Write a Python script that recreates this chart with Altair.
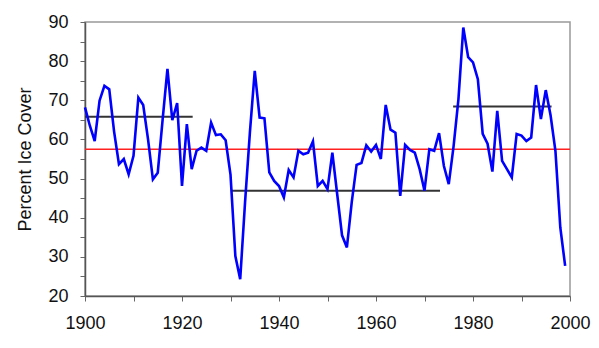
import altair as alt
import pandas as pd

years = list(range(1900, 2000))
ice_cover = [
    68.2, 63.5, 59.6, 69.9, 73.7, 72.8, 62.0, 53.7, 55.0, 51.1,
    55.8, 70.7, 68.8, 60.0, 49.8, 51.5, 65.0, 78.0, 64.9, 69.3,
    48.1, 63.9, 52.4, 57.1, 57.9, 57.1, 64.3, 61.1, 61.3, 59.8,
    51.0, 30.2, 24.3, 43.9, 61.8, 77.5, 65.6, 65.4, 51.6, 49.4,
    48.1, 45.2, 52.2, 50.3, 57.1, 56.2, 56.6, 59.5, 48.1, 49.4,
    47.3, 56.6, 46.0, 35.5, 32.4, 44.0, 53.5, 54.0, 58.5, 56.9,
    58.6, 55.0, 68.8, 62.5, 61.7, 45.6, 58.6, 57.3, 56.6, 52.4,
    46.9, 57.5, 57.1, 61.6, 53.2, 48.6, 58.3, 70.3, 88.6, 81.0,
    79.7, 75.4, 61.4, 58.9, 51.8, 67.3, 54.5, 52.4, 50.3, 61.4,
    61.0, 59.6, 60.5, 73.9, 65.2, 72.6, 66.1, 57.0, 37.5, 27.7,
]

mean_value = [57.5]
seg_start = [1900, 1930.2, 1975.9]
seg_end = [1922.2, 1973.2, 1996.2]
seg_value = [65.8, 46.9, 68.4]

x_ticks = list(range(1900, 2001, 10))
y_ticks = list(range(20, 91, 5))

df = pd.DataFrame({"year": years, "ice": ice_cover})
seg_df = pd.DataFrame({"start": seg_start, "end": seg_end, "v": seg_value})
mean_df = pd.DataFrame({"start": [1900], "end": [2000], "v": mean_value})

font = "Liberation Sans"

xscale = alt.Scale(domain=[1900, 2000], nice=False, zero=False)
yscale = alt.Scale(domain=[20, 90], nice=False, zero=False)

xaxis = alt.Axis(
    values=x_ticks,
    labelExpr="datum.value % 20 == 0 ? datum.label : ''",
    format="d",
    grid=False,
    tickSize=5,
    tickColor="#666",
    domainColor="#555",
    domainWidth=1.5,
    labelFont=font,
    labelFontSize=18,
    labelColor="#111",
    labelPadding=13,
    labelFlush=False,
    labelOverlap=False,
    title=None,
)
yaxis = alt.Axis(
    values=y_ticks,
    labelExpr="datum.value % 10 == 0 ? datum.label : ''",
    grid=False,
    tickSize=5,
    tickColor="#666",
    domainColor="#555",
    domainWidth=1.5,
    labelFont=font,
    labelFontSize=18,
    labelColor="#111",
    labelPadding=12,
    labelFlush=False,
    labelOverlap=False,
    title="Percent Ice Cover",
    titleFont=font,
    titleFontSize=18,
    titleFontWeight="normal",
    titleColor="#111",
    titleAngle=-90,
    titleX=-55,
    titleY=137,
    titleAlign="center",
    titleBaseline="alphabetic",
)

line = alt.Chart(df).mark_line(color="#0000FF", strokeWidth=2.6).encode(
    x=alt.X("year:Q", scale=xscale, axis=xaxis),
    y=alt.Y("ice:Q", scale=yscale, axis=yaxis),
)

mean_rule = alt.Chart(mean_df).mark_rule(color="#FF2020", strokeWidth=1.5).encode(
    x=alt.X("start:Q", scale=xscale, axis=xaxis),
    x2="end:Q",
    y=alt.Y("v:Q", scale=yscale, axis=yaxis),
)

segs = alt.Chart(seg_df).mark_rule(color="#333333", strokeWidth=2).encode(
    x=alt.X("start:Q", scale=xscale, axis=xaxis),
    x2="end:Q",
    y=alt.Y("v:Q", scale=yscale, axis=yaxis),
)

chart = (
    alt.layer(mean_rule, segs, line)
    .properties(
        width=485,
        height=274,
        autosize=alt.AutoSizeParams(type="none"),
        padding={"left": 77, "top": 14, "right": 21, "bottom": 44},
        background="white",
    )
    .configure_view(stroke="#999", strokeWidth=1.5)
)

chart.save("out.html", embed_options={"renderer": "svg", "actions": False})
